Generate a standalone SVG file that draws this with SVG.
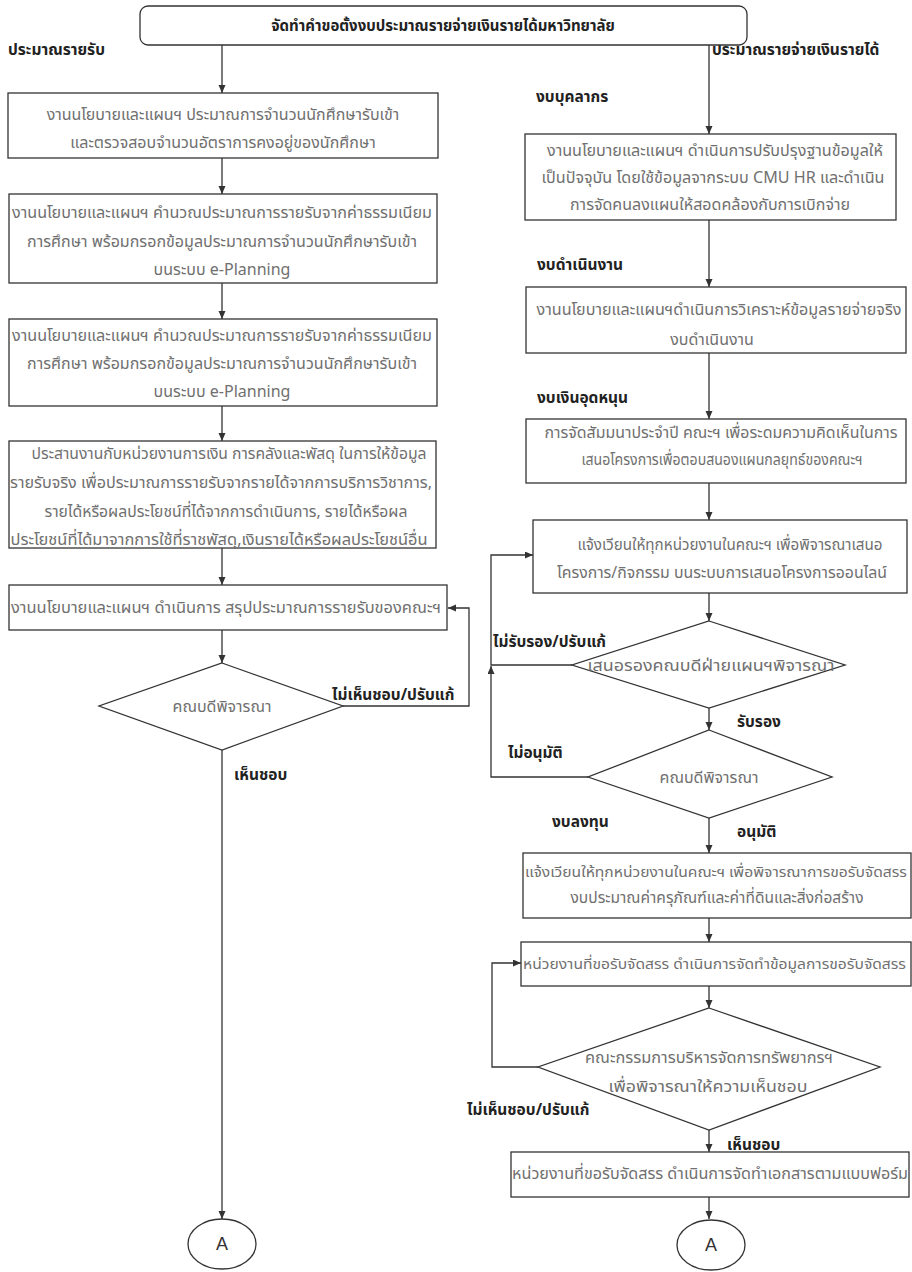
<svg xmlns="http://www.w3.org/2000/svg" width="912" height="1272" viewBox="0 0 912 1272">
<defs>
<marker id="ah" markerUnits="userSpaceOnUse" markerWidth="9" markerHeight="8" refX="8" refY="3.5" orient="auto">
<path d="M0,0 L8,3.5 L0,7 z" fill="#333"/>
</marker>
<style>
.box{fill:#fff;stroke:#333;stroke-width:1.3}
.t{font-family:"Noto Sans Thai","Tahoma","Leelawadee UI","Noto Sans","DejaVu Sans",sans-serif;font-size:16px;fill:#707070;text-anchor:middle}
.lb{font-family:"Noto Sans Thai","Tahoma","Leelawadee UI","Noto Sans","DejaVu Sans",sans-serif;font-size:15.5px;font-weight:bold;fill:#222}
.ttl{font-family:"Noto Sans Thai","Tahoma","Leelawadee UI","Noto Sans","DejaVu Sans",sans-serif;font-size:15px;font-weight:bold;fill:#222;text-anchor:middle}
.c{fill:none;stroke:#333;stroke-width:1.3}
.a{marker-end:url(#ah)}
.ca{font-family:"Liberation Sans",Arial,sans-serif;font-size:18px;fill:#333;text-anchor:middle}
.sm{font-size:14.3px;text-anchor:start}
</style>
</defs>
<rect width="912" height="1272" fill="#fff"/>

<g id="connectors">
<path class="c a" d="M222,45 V93"/>
<path class="c a" d="M709,45 V134"/>
<path class="c a" d="M222,158 V194"/>
<path class="c a" d="M222,283 V319"/>
<path class="c a" d="M222,406 V441"/>
<path class="c a" d="M222,548 V585"/>
<path class="c a" d="M222,630 V663"/>
<path class="c a" d="M343,706 H469 V608 H448"/>
<path class="c a" d="M222,750 V1219"/>
<path class="c a" d="M709,220 V287"/>
<path class="c a" d="M709,353 V419"/>
<path class="c a" d="M709,483 V520"/>
<path class="c a" d="M709,593 V621"/>
<path class="c a" d="M709,708 V730"/>
<path class="c a" d="M709,818 V853"/>
<path class="c a" d="M709,918 V942"/>
<path class="c a" d="M709,986 V1008"/>
<path class="c a" d="M709,1130 V1152"/>
<path class="c a" d="M709,1197 V1219"/>
<path class="c a" d="M572,665 H491 V555 H533"/>
<path class="c a" d="M588,777 H491 V666"/>
<path class="c a" d="M538,1067 H492 V963 H521"/>
</g>

<g id="labels">
<text class="lb" x="8" y="55">ประมาณรายรับ</text>
<text class="lb" x="712" y="55">ประมาณรายจ่ายเงินรายได้</text>
<text class="lb" x="536" y="102">งบบุคลากร</text>
<text class="lb" x="537" y="270">งบดำเนินงาน</text>
<text class="lb" x="537" y="403">งบเงินอุดหนุน</text>
<text class="lb" x="332" y="700">ไม่เห็นชอบ/ปรับแก้</text>
<text class="lb" x="234" y="780">เห็นชอบ</text>
<text class="lb" x="493" y="647">ไม่รับรอง/ปรับแก้</text>
<text class="lb" x="737" y="727">รับรอง</text>
<text class="lb" x="508" y="758">ไม่อนุมัติ</text>
<text class="lb" x="552" y="827">งบลงทุน</text>
<text class="lb" x="737" y="837">อนุมัติ</text>
<text class="lb" x="467" y="1115">ไม่เห็นชอบ/ปรับแก้</text>
<text class="lb" x="727" y="1150">เห็นชอบ</text>
</g>

<g id="n-title">
<rect class="box" x="140" y="6" width="607" height="39" rx="8"/>
<text class="ttl" x="443" y="31">จัดทำคำขอตั้งงบประมาณรายจ่ายเงินรายได้มหาวิทยาลัย</text>
</g>

<g id="n-L1">
<rect class="box" x="8" y="93" width="430" height="65"/>
<text class="t" x="223" y="120">งานนโยบายและแผนฯ ประมาณการจำนวนนักศึกษารับเข้า</text>
<text class="t" x="223" y="148">และตรวจสอบจำนวนอัตราการคงอยู่ของนักศึกษา</text>
</g>

<g id="n-L2">
<rect class="box" x="9" y="194" width="428" height="89"/>
<text class="t" x="222" y="218" textLength="420" lengthAdjust="spacingAndGlyphs">งานนโยบายและแผนฯ คำนวณประมาณการรายรับจากค่าธรรมเนียม</text>
<text class="t" x="222" y="247" textLength="390" lengthAdjust="spacingAndGlyphs">การศึกษา พร้อมกรอกข้อมูลประมาณการจำนวนนักศึกษารับเข้า</text>
<text class="t" x="222" y="275">บนระบบ e-Planning</text>
</g>

<g id="n-L3">
<rect class="box" x="9" y="319" width="428" height="87"/>
<text class="t" x="222" y="341" textLength="420" lengthAdjust="spacingAndGlyphs">งานนโยบายและแผนฯ คำนวณประมาณการรายรับจากค่าธรรมเนียม</text>
<text class="t" x="222" y="369" textLength="390" lengthAdjust="spacingAndGlyphs">การศึกษา พร้อมกรอกข้อมูลประมาณการจำนวนนักศึกษารับเข้า</text>
<text class="t" x="222" y="397">บนระบบ e-Planning</text>
</g>

<g id="n-L4">
<rect class="box" x="9" y="441" width="427" height="107"/>
<text class="t" x="229" y="459" textLength="395" lengthAdjust="spacingAndGlyphs">ประสานงานกับหน่วยงานการเงิน การคลังและพัสดุ ในการให้ข้อมูล</text>
<text class="t" x="221" y="488" textLength="422" lengthAdjust="spacingAndGlyphs">รายรับจริง เพื่อประมาณการรายรับจากรายได้จากการบริการวิชาการ,</text>
<text class="t" x="226" y="517" textLength="363" lengthAdjust="spacingAndGlyphs">รายได้หรือผลประโยชน์ที่ได้จากการดำเนินการ, รายได้หรือผล</text>
<text class="t" x="219" y="545" textLength="417" lengthAdjust="spacingAndGlyphs">ประโยชน์ที่ได้มาจากการใช้ที่ราชพัสดุ,เงินรายได้หรือผลประโยชน์อื่น</text>
</g>

<g id="n-L5">
<rect class="box" x="9" y="585" width="438" height="45"/>
<text class="t" x="226" y="613" textLength="430" lengthAdjust="spacingAndGlyphs">งานนโยบายและแผนฯ ดำเนินการ สรุปประมาณการรายรับของคณะฯ</text>
</g>

<g id="n-D1">
<polygon class="box" points="222,663 343,706 222,750 99,706"/>
<text class="t" x="222" y="712">คณบดีพิจารณา</text>
</g>

<g id="n-A1">
<ellipse class="box" cx="222" cy="1244" rx="34" ry="25"/>
<text class="ca" x="222" y="1250">A</text>
</g>

<g id="n-R1">
<rect class="box" x="525" y="134" width="371" height="86"/>
<text class="t" x="715" y="156" textLength="336" lengthAdjust="spacingAndGlyphs">งานนโยบายและแผนฯ ดำเนินการปรับปรุงฐานข้อมูลให้</text>
<text class="t" x="713" y="183" textLength="343" lengthAdjust="spacingAndGlyphs">เป็นปัจจุบัน โดยใช้ข้อมูลจากระบบ CMU HR และดำเนิน</text>
<text class="t" x="710" y="210" textLength="280" lengthAdjust="spacingAndGlyphs">การจัดคนลงแผนให้สอดคล้องกับการเบิกจ่าย</text>
</g>

<g id="n-R2">
<rect class="box" x="526" y="287" width="380" height="66"/>
<text class="t" x="719" y="315" textLength="365" lengthAdjust="spacingAndGlyphs">งานนโยบายและแผนฯดำเนินการวิเคราะห์ข้อมูลรายจ่ายจริง</text>
<text class="t" x="712" y="345">งบดำเนินงาน</text>
</g>

<g id="n-R3">
<rect class="box" x="526" y="419" width="380" height="64"/>
<text class="t" x="721" y="438" textLength="353" lengthAdjust="spacingAndGlyphs">การจัดสัมมนาประจำปี คณะฯ เพื่อระดมความคิดเห็นในการ</text>
<text class="t" x="722" y="465" textLength="281" lengthAdjust="spacingAndGlyphs">เสนอโครงการเพื่อตอบสนองแผนกลยุทธ์ของคณะฯ</text>
</g>

<g id="n-R4">
<rect class="box" x="533" y="520" width="374" height="73"/>
<text class="t" x="730" y="550" textLength="305" lengthAdjust="spacingAndGlyphs">แจ้งเวียนให้ทุกหน่วยงานในคณะฯ เพื่อพิจารณาเสนอ</text>
<text class="t" x="722" y="578" textLength="330" lengthAdjust="spacingAndGlyphs">โครงการ/กิจกรรม บนระบบการเสนอโครงการออนไลน์</text>
</g>

<g id="n-D2">
<polygon class="box" points="709,621 845,665 709,708 572,665"/>
<text class="t" x="711" y="671" textLength="247" lengthAdjust="spacingAndGlyphs">เสนอรองคณบดีฝ่ายแผนฯพิจารณา</text>
</g>

<g id="n-D3">
<polygon class="box" points="709,730 832,777 709,818 588,777"/>
<text class="t" x="709" y="783">คณบดีพิจารณา</text>
</g>

<g id="n-R5">
<rect class="box" x="523" y="853" width="388" height="65"/>
<text class="t sm" x="525" y="877" textLength="382" lengthAdjust="spacingAndGlyphs">แจ้งเวียนให้ทุกหน่วยงานในคณะฯ เพื่อพิจารณาการขอรับจัดสรร</text>
<text class="t" x="717" y="903" textLength="293" lengthAdjust="spacingAndGlyphs">งบประมาณค่าครุภัณฑ์และค่าที่ดินและสิ่งก่อสร้าง</text>
</g>

<g id="n-R6">
<rect class="box" x="521" y="942" width="390" height="44"/>
<text class="t sm" x="523" y="969" textLength="383" lengthAdjust="spacingAndGlyphs">หน่วยงานที่ขอรับจัดสรร ดำเนินการจัดทำข้อมูลการขอรับจัดสรร</text>
</g>

<g id="n-D4">
<polygon class="box" points="709,1008 880,1067 709,1130 538,1067"/>
<text class="t" x="709" y="1063" textLength="248" lengthAdjust="spacingAndGlyphs">คณะกรรมการบริหารจัดการทรัพยากรฯ</text>
<text class="t" x="708" y="1092" textLength="199" lengthAdjust="spacingAndGlyphs">เพื่อพิจารณาให้ความเห็นชอบ</text>
</g>

<g id="n-R7">
<rect class="box" x="511" y="1152" width="398" height="45"/>
<text class="t" x="710" y="1179" textLength="396" lengthAdjust="spacingAndGlyphs">หน่วยงานที่ขอรับจัดสรร ดำเนินการจัดทำเอกสารตามแบบฟอร์ม</text>
</g>

<g id="n-A2">
<ellipse class="box" cx="711" cy="1245" rx="34" ry="25"/>
<text class="ca" x="711" y="1251">A</text>
</g>
</svg>
